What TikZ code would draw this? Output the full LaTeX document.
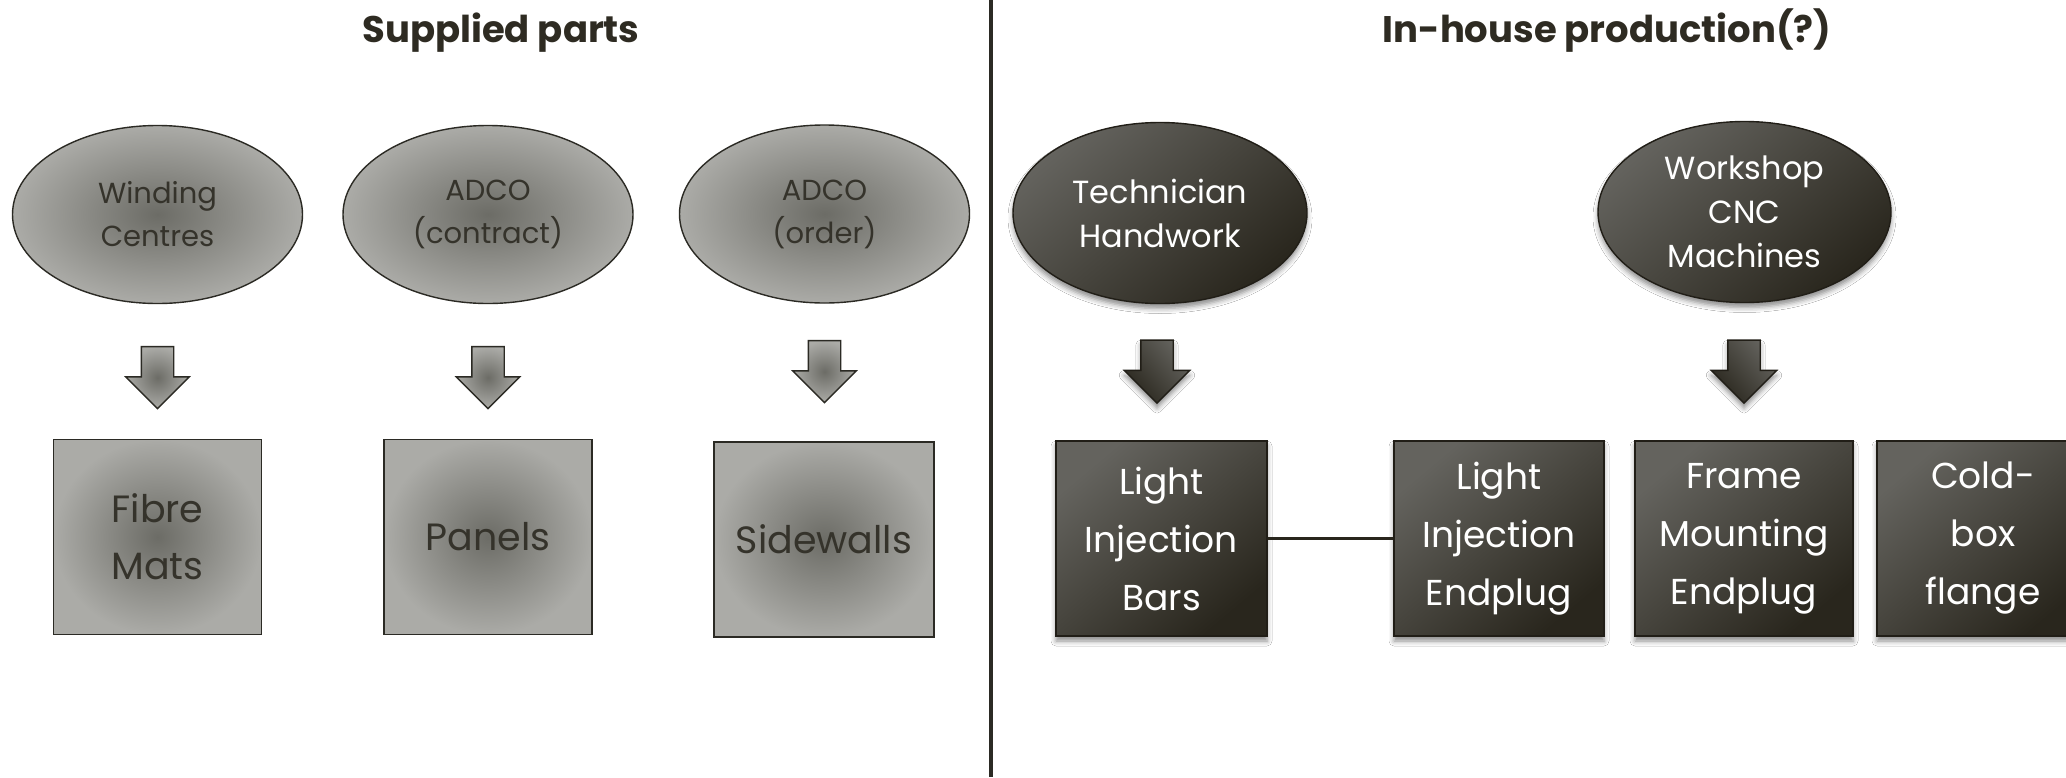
\documentclass[tikz,border=0pt]{standalone}
\usepackage{fontspec}
\setmainfont{Poppins}
\usetikzlibrary{shapes.geometric,shapes.arrows,shadows.blur}
\definecolor{ink}{HTML}{2E2B22}
\definecolor{lefttext}{HTML}{35332B}
\definecolor{edge}{HTML}{2B2A24}
\definecolor{lin}{HTML}{6C6C66}
\definecolor{lout}{HTML}{ABABA7}
\definecolor{rlight}{HTML}{64635E}
\definecolor{rdark}{HTML}{29261D}
\begin{document}
\begin{tikzpicture}[x=1pt,y=-1pt,
  lshade/.style={draw=edge, line width=1.4pt, inner color=lin, outer color=lout},
  rshade/.style={draw=rdark!80!black, line width=1.4pt, top color=rlight, bottom color=rdark, shading angle=40,
     blur shadow={shadow xshift=0pt, shadow yshift=-5pt, shadow blur radius=5pt, shadow opacity=45}},
  lell/.style={lshade, ellipse, minimum width=290pt, minimum height=178pt, inner sep=0pt, align=center,
     text=lefttext, font=\fontsize{29}{43}\selectfont},
  rell/.style={rshade, ellipse, minimum width=293pt, minimum height=181pt, inner sep=0pt, align=center,
     text=white, font=\fontsize{32}{44}\selectfont},
  lbox/.style={lshade, rectangle, minimum height=195pt, inner sep=0pt, align=center,
     text=lefttext, font=\fontsize{38}{57}\selectfont},
  rbox/.style={rshade, rectangle, minimum height=195pt, inner sep=0pt, align=center,
     text=white, font=\fontsize{36}{58}\selectfont},
  larrow/.style={lshade, single arrow, rotate=-90, minimum height=62pt, minimum width=62pt,
     inner xsep=0pt, inner ysep=15.5pt, single arrow head extend=15.5pt, single arrow tip angle=90},
  rarrow/.style={rshade, shading angle=-50, single arrow, rotate=-90, minimum height=63pt, minimum width=64pt,
     inner xsep=0pt, inner ysep=15.5pt, single arrow head extend=16.5pt, single arrow tip angle=90},
  title/.style={anchor=base, text=ink, font=\bfseries\fontsize{37}{40}\selectfont}
]
\useasboundingbox (0,0) rectangle (2066,777);
\fill[white] (0,0) rectangle (2066,777);

% divider
\coordinate (dtop) at (991,0);
\coordinate (dbot) at (991,777);
\draw[line width=3.2pt, color=edge] (dtop) -- (dbot);

% titles
\node[title] (t1) at (501,42) {Supplied parts};
\node[title] (t2) at (1607,42) {In-house production(?)};

% left side
\node[lell] (e1) at (157.5,214.5) {Winding\\Centres};
\node[lell] (e2) at (488,214.5) {ADCO\\(contract)};
\node[lell] (e3) at (824.5,214) {ADCO\\(order)};

\node[larrow] (a1) at (157.5,369.5) {};
\node[larrow] (a2) at (488,369.5) {};
\node[larrow] (a3) at (824.5,363.5) {};

\node[lbox, minimum width=208pt] (b1) at (157.5,537) {Fibre\\Mats};
\node[lbox, minimum width=208pt] (b2) at (488,537) {Panels};
\node[lbox, minimum width=220pt] (b3) at (824,539.5) {Sidewalls};

% right side
\node[rell, minimum width=294pt] (e4) at (1160,213) {Technician\\Handwork};
\node[rell] (e5) at (1744.5,212) {Workshop\\CNC\\Machines};

\node[rarrow] (a4) at (1157,363.5) {};
\node[rarrow] (a5) at (1744,363.5) {};

\node[rbox, minimum width=211pt] (r1) at (1161.5,538.5) {Light\\Injection\\Bars};
\node[rbox, minimum width=210pt] (r2) at (1499,538.5) {Light\\Injection\\Endplug};
\node[rbox, minimum width=218pt] (r3) at (1744,538.5) {Frame\\Mounting\\Endplug};
\node[rbox, minimum width=212pt] (r4) at (1983,538.5) {Cold-\\box\\flange};

\draw[line width=3.5pt, color=rdark] (r1.east) -- (r2.west);
\end{tikzpicture}
\end{document}
